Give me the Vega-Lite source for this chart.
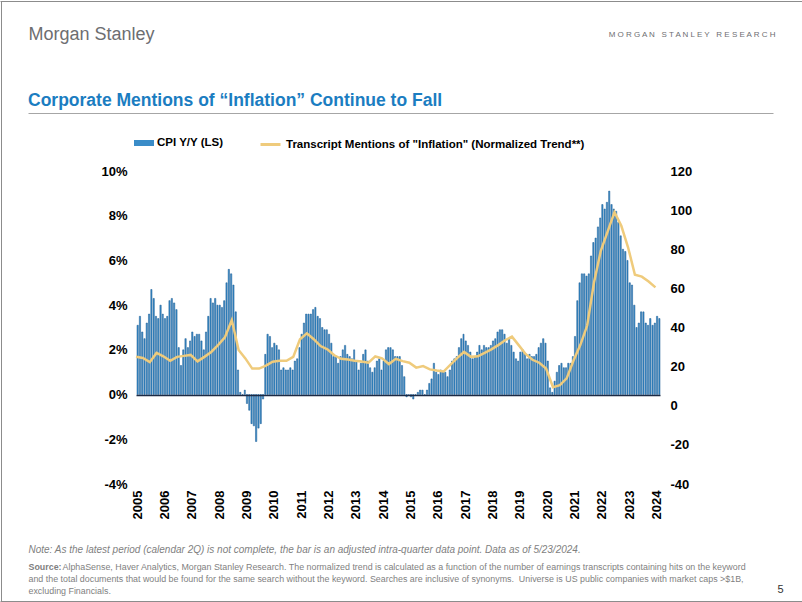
{
"$schema": "https://vega.github.io/schema/vega-lite/v6.json",
"width": 524,
"height": 313,
"autosize": {"type": "none"},
"padding": {"left": 136, "top": 171, "right": 142, "bottom": 118},
"background": "white",
"config": {
  "view": {"stroke": null},
  "axis": {"labelFont": "Liberation Sans", "titleFont": "Liberation Sans"},
  "legend": {"labelFont": "Liberation Sans"},
  "title": {"font": "Liberation Sans"}
},
"title": {
  "text": "Corporate Mentions of “Inflation” Continue to Fall",
  "anchor": "start", "frame": "group", "orient": "top",
  "dx": -108, "dy": 123, "offset": 0, "baseline": "alphabetic",
  "fontSize": 17.5, "fontWeight": "bold", "color": "#1b7dc1"
},
"datasets": {
  "cpi": [
    {"m":"2005-03","cpi":3.1},{"m":"2005-04","cpi":3.5},{"m":"2005-05","cpi":2.8},{"m":"2005-06","cpi":2.5},{"m":"2005-07","cpi":3.2},{"m":"2005-08","cpi":3.6},{"m":"2005-09","cpi":4.7},{"m":"2005-10","cpi":4.3},{"m":"2005-11","cpi":3.5},{"m":"2005-12","cpi":3.4},
    {"m":"2006-01","cpi":4.0},{"m":"2006-02","cpi":3.6},{"m":"2006-03","cpi":3.4},{"m":"2006-04","cpi":3.5},{"m":"2006-05","cpi":4.2},{"m":"2006-06","cpi":4.3},{"m":"2006-07","cpi":4.1},{"m":"2006-08","cpi":3.8},{"m":"2006-09","cpi":2.1},{"m":"2006-10","cpi":1.3},{"m":"2006-11","cpi":2.0},{"m":"2006-12","cpi":2.5},
    {"m":"2007-01","cpi":2.1},{"m":"2007-02","cpi":2.4},{"m":"2007-03","cpi":2.8},{"m":"2007-04","cpi":2.6},{"m":"2007-05","cpi":2.7},{"m":"2007-06","cpi":2.7},{"m":"2007-07","cpi":2.4},{"m":"2007-08","cpi":2.0},{"m":"2007-09","cpi":2.8},{"m":"2007-10","cpi":3.5},{"m":"2007-11","cpi":4.3},{"m":"2007-12","cpi":4.1},
    {"m":"2008-01","cpi":4.3},{"m":"2008-02","cpi":4.0},{"m":"2008-03","cpi":4.0},{"m":"2008-04","cpi":3.9},{"m":"2008-05","cpi":4.2},{"m":"2008-06","cpi":5.0},{"m":"2008-07","cpi":5.6},{"m":"2008-08","cpi":5.4},{"m":"2008-09","cpi":4.9},{"m":"2008-10","cpi":3.7},{"m":"2008-11","cpi":1.1},{"m":"2008-12","cpi":0.1},
    {"m":"2009-01","cpi":0.0},{"m":"2009-02","cpi":0.2},{"m":"2009-03","cpi":-0.4},{"m":"2009-04","cpi":-0.7},{"m":"2009-05","cpi":-1.3},{"m":"2009-06","cpi":-1.4},{"m":"2009-07","cpi":-2.1},{"m":"2009-08","cpi":-1.5},{"m":"2009-09","cpi":-1.3},{"m":"2009-10","cpi":-0.2},{"m":"2009-11","cpi":1.8},{"m":"2009-12","cpi":2.7},
    {"m":"2010-01","cpi":2.6},{"m":"2010-02","cpi":2.1},{"m":"2010-03","cpi":2.3},{"m":"2010-04","cpi":2.2},{"m":"2010-05","cpi":2.0},{"m":"2010-06","cpi":1.1},{"m":"2010-07","cpi":1.2},{"m":"2010-08","cpi":1.1},{"m":"2010-09","cpi":1.1},{"m":"2010-10","cpi":1.2},{"m":"2010-11","cpi":1.1},{"m":"2010-12","cpi":1.5},
    {"m":"2011-01","cpi":1.6},{"m":"2011-02","cpi":2.1},{"m":"2011-03","cpi":2.7},{"m":"2011-04","cpi":3.2},{"m":"2011-05","cpi":3.6},{"m":"2011-06","cpi":3.6},{"m":"2011-07","cpi":3.6},{"m":"2011-08","cpi":3.8},{"m":"2011-09","cpi":3.9},{"m":"2011-10","cpi":3.5},{"m":"2011-11","cpi":3.4},{"m":"2011-12","cpi":3.0},
    {"m":"2012-01","cpi":2.9},{"m":"2012-02","cpi":2.9},{"m":"2012-03","cpi":2.7},{"m":"2012-04","cpi":2.3},{"m":"2012-05","cpi":1.7},{"m":"2012-06","cpi":1.7},{"m":"2012-07","cpi":1.4},{"m":"2012-08","cpi":1.7},{"m":"2012-09","cpi":2.0},{"m":"2012-10","cpi":2.2},{"m":"2012-11","cpi":1.8},{"m":"2012-12","cpi":1.7},
    {"m":"2013-01","cpi":1.6},{"m":"2013-02","cpi":2.0},{"m":"2013-03","cpi":1.5},{"m":"2013-04","cpi":1.1},{"m":"2013-05","cpi":1.4},{"m":"2013-06","cpi":1.8},{"m":"2013-07","cpi":2.0},{"m":"2013-08","cpi":1.5},{"m":"2013-09","cpi":1.2},{"m":"2013-10","cpi":1.0},{"m":"2013-11","cpi":1.2},{"m":"2013-12","cpi":1.5},
    {"m":"2014-01","cpi":1.6},{"m":"2014-02","cpi":1.1},{"m":"2014-03","cpi":1.5},{"m":"2014-04","cpi":2.0},{"m":"2014-05","cpi":2.1},{"m":"2014-06","cpi":2.1},{"m":"2014-07","cpi":2.0},{"m":"2014-08","cpi":1.7},{"m":"2014-09","cpi":1.7},{"m":"2014-10","cpi":1.7},{"m":"2014-11","cpi":1.3},{"m":"2014-12","cpi":0.8},
    {"m":"2015-01","cpi":-0.1},{"m":"2015-02","cpi":0.0},{"m":"2015-03","cpi":-0.1},{"m":"2015-04","cpi":-0.2},{"m":"2015-05","cpi":0.0},{"m":"2015-06","cpi":0.1},{"m":"2015-07","cpi":0.2},{"m":"2015-08","cpi":0.2},{"m":"2015-09","cpi":0.0},{"m":"2015-10","cpi":0.2},{"m":"2015-11","cpi":0.5},{"m":"2015-12","cpi":0.7},
    {"m":"2016-01","cpi":1.4},{"m":"2016-02","cpi":1.0},{"m":"2016-03","cpi":0.9},{"m":"2016-04","cpi":1.1},{"m":"2016-05","cpi":1.0},{"m":"2016-06","cpi":1.0},{"m":"2016-07","cpi":0.8},{"m":"2016-08","cpi":1.1},{"m":"2016-09","cpi":1.5},{"m":"2016-10","cpi":1.6},{"m":"2016-11","cpi":1.7},{"m":"2016-12","cpi":2.1},
    {"m":"2017-01","cpi":2.5},{"m":"2017-02","cpi":2.7},{"m":"2017-03","cpi":2.4},{"m":"2017-04","cpi":2.2},{"m":"2017-05","cpi":1.9},{"m":"2017-06","cpi":1.6},{"m":"2017-07","cpi":1.7},{"m":"2017-08","cpi":1.9},{"m":"2017-09","cpi":2.2},{"m":"2017-10","cpi":2.0},{"m":"2017-11","cpi":2.2},{"m":"2017-12","cpi":2.1},
    {"m":"2018-01","cpi":2.1},{"m":"2018-02","cpi":2.2},{"m":"2018-03","cpi":2.4},{"m":"2018-04","cpi":2.5},{"m":"2018-05","cpi":2.8},{"m":"2018-06","cpi":2.9},{"m":"2018-07","cpi":2.9},{"m":"2018-08","cpi":2.7},{"m":"2018-09","cpi":2.3},{"m":"2018-10","cpi":2.5},{"m":"2018-11","cpi":2.2},{"m":"2018-12","cpi":1.9},
    {"m":"2019-01","cpi":1.6},{"m":"2019-02","cpi":1.5},{"m":"2019-03","cpi":1.9},{"m":"2019-04","cpi":2.0},{"m":"2019-05","cpi":1.8},{"m":"2019-06","cpi":1.6},{"m":"2019-07","cpi":1.8},{"m":"2019-08","cpi":1.7},{"m":"2019-09","cpi":1.7},{"m":"2019-10","cpi":1.8},{"m":"2019-11","cpi":2.1},{"m":"2019-12","cpi":2.3},
    {"m":"2020-01","cpi":2.5},{"m":"2020-02","cpi":2.3},{"m":"2020-03","cpi":1.5},{"m":"2020-04","cpi":0.3},{"m":"2020-05","cpi":0.1},{"m":"2020-06","cpi":0.6},{"m":"2020-07","cpi":1.0},{"m":"2020-08","cpi":1.3},{"m":"2020-09","cpi":1.4},{"m":"2020-10","cpi":1.2},{"m":"2020-11","cpi":1.2},{"m":"2020-12","cpi":1.4},
    {"m":"2021-01","cpi":1.4},{"m":"2021-02","cpi":1.7},{"m":"2021-03","cpi":2.6},{"m":"2021-04","cpi":4.2},{"m":"2021-05","cpi":5.0},{"m":"2021-06","cpi":5.4},{"m":"2021-07","cpi":5.4},{"m":"2021-08","cpi":5.3},{"m":"2021-09","cpi":5.4},{"m":"2021-10","cpi":6.2},{"m":"2021-11","cpi":6.8},{"m":"2021-12","cpi":7.0},
    {"m":"2022-01","cpi":7.5},{"m":"2022-02","cpi":7.9},{"m":"2022-03","cpi":8.5},{"m":"2022-04","cpi":8.3},{"m":"2022-05","cpi":8.6},{"m":"2022-06","cpi":9.1},{"m":"2022-07","cpi":8.5},{"m":"2022-08","cpi":8.3},{"m":"2022-09","cpi":8.2},{"m":"2022-10","cpi":7.7},{"m":"2022-11","cpi":7.1},{"m":"2022-12","cpi":6.5},
    {"m":"2023-01","cpi":6.4},{"m":"2023-02","cpi":6.0},{"m":"2023-03","cpi":5.0},{"m":"2023-04","cpi":4.9},{"m":"2023-05","cpi":4.0},{"m":"2023-06","cpi":3.0},{"m":"2023-07","cpi":3.2},{"m":"2023-08","cpi":3.7},{"m":"2023-09","cpi":3.7},{"m":"2023-10","cpi":3.2},{"m":"2023-11","cpi":3.1},{"m":"2023-12","cpi":3.4},
    {"m":"2024-01","cpi":3.1},{"m":"2024-02","cpi":3.2},{"m":"2024-03","cpi":3.5},{"m":"2024-04","cpi":3.4}
  ],
  "mentions": [
    {"q":"2005-03","v":25},{"q":"2005-06","v":24.4},{"q":"2005-09","v":22.3},{"q":"2005-12","v":27},
    {"q":"2006-03","v":25.3},{"q":"2006-06","v":23},{"q":"2006-09","v":25},{"q":"2006-12","v":25.5},
    {"q":"2007-03","v":26},{"q":"2007-06","v":22.7},{"q":"2007-09","v":25},{"q":"2007-12","v":27.5},
    {"q":"2008-03","v":31},{"q":"2008-06","v":35},{"q":"2008-09","v":43.8},{"q":"2008-12","v":28.5},
    {"q":"2009-03","v":24.2},{"q":"2009-06","v":19},{"q":"2009-09","v":19},{"q":"2009-12","v":20.5},
    {"q":"2010-03","v":22.5},{"q":"2010-06","v":23},{"q":"2010-09","v":23},{"q":"2010-12","v":25},
    {"q":"2011-03","v":34},{"q":"2011-06","v":37},{"q":"2011-09","v":34},{"q":"2011-12","v":30.5},
    {"q":"2012-03","v":28.8},{"q":"2012-06","v":25.8},{"q":"2012-09","v":24},{"q":"2012-12","v":23.6},
    {"q":"2013-03","v":23},{"q":"2013-06","v":22.6},{"q":"2013-09","v":22},{"q":"2013-12","v":25.2},
    {"q":"2014-03","v":24.2},{"q":"2014-06","v":21.3},{"q":"2014-09","v":24},{"q":"2014-12","v":22.8},
    {"q":"2015-03","v":22},{"q":"2015-06","v":19.5},{"q":"2015-09","v":20.3},{"q":"2015-12","v":18.6},
    {"q":"2016-03","v":18},{"q":"2016-06","v":17.5},{"q":"2016-09","v":21},{"q":"2016-12","v":24.5},
    {"q":"2017-03","v":27.5},{"q":"2017-06","v":25},{"q":"2017-09","v":25.3},{"q":"2017-12","v":27},
    {"q":"2018-03","v":28.8},{"q":"2018-06","v":31},{"q":"2018-09","v":33.5},{"q":"2018-12","v":35.3},
    {"q":"2019-03","v":31},{"q":"2019-06","v":26.5},{"q":"2019-09","v":23.5},{"q":"2019-12","v":22},
    {"q":"2020-03","v":19},{"q":"2020-06","v":9.5},{"q":"2020-09","v":10.5},{"q":"2020-12","v":14},
    {"q":"2021-03","v":23},{"q":"2021-06","v":31},{"q":"2021-09","v":41},{"q":"2021-12","v":63},
    {"q":"2022-03","v":79},{"q":"2022-06","v":89},{"q":"2022-09","v":99},{"q":"2022-12","v":92},
    {"q":"2023-03","v":81},{"q":"2023-06","v":67},{"q":"2023-09","v":66},{"q":"2023-12","v":63.5},
    {"q":"2024-03","v":60.5}
  ]
},
"layer": [
  {
    "data": {"name": "cpi"},
    "mark": {"type": "bar", "stroke": "#1b5a93", "strokeWidth": 0.5},
    "encoding": {
      "x": {
        "field": "m", "type": "temporal", "timeUnit": "utcyearmonth",
        "scale": {"type": "utc", "domain": [{"year": 2005, "month": 3, "date": 1, "utc": true}, {"year": 2024, "month": 5, "date": 1, "utc": true}]},
        "axis": {
          "orient": "bottom",
          "values": [
            {"year": 2005, "month": 3, "date": 16, "utc": true},{"year": 2006, "month": 3, "date": 16, "utc": true},{"year": 2007, "month": 3, "date": 16, "utc": true},{"year": 2008, "month": 3, "date": 16, "utc": true},
            {"year": 2009, "month": 3, "date": 16, "utc": true},{"year": 2010, "month": 3, "date": 16, "utc": true},{"year": 2011, "month": 3, "date": 16, "utc": true},{"year": 2012, "month": 3, "date": 16, "utc": true},
            {"year": 2013, "month": 3, "date": 16, "utc": true},{"year": 2014, "month": 3, "date": 16, "utc": true},{"year": 2015, "month": 3, "date": 16, "utc": true},{"year": 2016, "month": 3, "date": 16, "utc": true},
            {"year": 2017, "month": 3, "date": 16, "utc": true},{"year": 2018, "month": 3, "date": 16, "utc": true},{"year": 2019, "month": 3, "date": 16, "utc": true},{"year": 2020, "month": 3, "date": 16, "utc": true},
            {"year": 2021, "month": 3, "date": 16, "utc": true},{"year": 2022, "month": 3, "date": 16, "utc": true},{"year": 2023, "month": 3, "date": 16, "utc": true},{"year": 2024, "month": 3, "date": 16, "utc": true}
          ],
          "labelExpr": "utcFormat(datum.value, '%Y')",
          "labelAngle": -90, "labelFontSize": 13, "labelFontWeight": "bold", "labelColor": "#000000", "labelPadding": 6,
          "labelOverlap": false, "labelFlush": false,
          "domain": false, "ticks": false, "grid": false,
          "title": "Note: As the latest period (calendar 2Q) is not complete, the bar is an adjusted intra-quarter data point. Data as of 5/23/2024.",
          "titleX": -108, "titleY": 68, "titleAngle": 0, "titleAlign": "left", "titleBaseline": "alphabetic",
          "titleFontSize": 10, "titleFontWeight": "normal", "titleFontStyle": "italic", "titleColor": "#7f7f7f"
        }
      },
      "y": {
        "field": "cpi", "type": "quantitative",
        "scale": {"domain": [-4, 10], "nice": false, "zero": false},
        "axis": {
          "orient": "left", "zindex": 1,
          "values": [-4, -2, 0, 2, 4, 6, 8, 10],
          "labelExpr": "datum.value + '%'",
          "labelFontSize": 13, "labelFontWeight": "bold", "labelColor": "#000000", "labelPadding": 9,
          "domain": false, "ticks": false,
          "grid": true, "gridWidth": 1.6,
          "gridColor": {"condition": {"test": "datum.value === 0", "value": "#1c2a44"}, "value": "transparent"},
          "title": "Morgan Stanley",
          "titleX": -108, "titleY": -132, "titleAngle": 0, "titleAlign": "left", "titleBaseline": "alphabetic",
          "titleFontSize": 18, "titleFontWeight": "normal", "titleColor": "#6d6e71"
        }
      },
      "fill": {
        "datum": "CPI Y/Y (LS)", "type": "nominal",
        "scale": {"range": ["#3a8cc8"]},
        "legend": {
          "orient": "none", "legendX": -2, "legendY": -38, "title": null, "padding": 0,
          "symbolType": "M-1,-0.3H1V0.3H-1Z", "symbolSize": 400, "symbolStrokeWidth": 0,
          "labelFontSize": 11.5, "labelFontWeight": "bold", "labelColor": "#000000", "labelOffset": 3, "labelLimit": 400
        }
      }
    }
  },
  {
    "data": {"name": "mentions"},
    "mark": {"type": "line", "strokeWidth": 2.5},
    "encoding": {
      "x": {
        "field": "q", "type": "temporal",
        "scale": {"type": "utc", "domain": [{"year": 2005, "month": 3, "date": 1, "utc": true}, {"year": 2024, "month": 5, "date": 1, "utc": true}]},
        "axis": {
          "orient": "bottom", "labels": false, "ticks": false, "domain": false, "grid": false,
          "title": "AlphaSense, Haver Analytics, Morgan Stanley Research. The normalized trend is calculated as a function of the number of earnings transcripts containing hits on the keyword",
          "titleX": -74, "titleY": 78, "titleAngle": 0, "titleAlign": "left", "titleBaseline": "top",
          "titleFontSize": 8.9, "titleFontWeight": "normal", "titleColor": "#7f7f7f", "titleLimit": 800
        }
      },
      "y": {
        "field": "v", "type": "quantitative",
        "scale": {"domain": [-40, 120], "nice": false, "zero": false},
        "axis": {
          "orient": "right",
          "values": [-40, -20, 0, 20, 40, 60, 80, 100, 120],
          "labelExpr": "'' + datum.value",
          "labelFontSize": 13, "labelFontWeight": "bold", "labelColor": "#000000", "labelPadding": 10,
          "domain": false, "ticks": false, "grid": false,
          "title": "M O R G A N\u00a0\u00a0 S T A N L E Y\u00a0\u00a0 R E S E A R C H",
          "titleX": 115, "titleY": -135, "titleAngle": 0, "titleAlign": "right", "titleBaseline": "alphabetic",
          "titleFontSize": 8, "titleFontWeight": "normal", "titleColor": "#6d6e71"
        }
      },
      "stroke": {
        "datum": "Transcript Mentions of \"Inflation\" (Normalized Trend**)", "type": "nominal",
        "scale": {"range": ["#efcb7c"]},
        "legend": {
          "orient": "none", "legendX": 123, "legendY": -38, "title": null, "padding": 0,
          "symbolType": "stroke", "symbolSize": 400, "symbolStrokeWidth": 3,
          "labelFontSize": 11.5, "labelFontWeight": "bold", "labelColor": "#000000", "labelOffset": 4, "labelLimit": 400
        }
      }
    }
  },
  {
    "data": {"name": "mentions"},
    "mark": {"type": "point", "opacity": 0},
    "encoding": {
      "x": {
        "field": "q", "type": "temporal",
        "scale": {"type": "utc", "domain": [{"year": 2005, "month": 3, "date": 1, "utc": true}, {"year": 2024, "month": 5, "date": 1, "utc": true}], "range": [-135.5, 665.5]},
        "axis": {
          "orient": "bottom", "offset": 117.5,
          "values": [{"year": 2005, "month": 3, "date": 1, "utc": true}, {"year": 2024, "month": 5, "date": 1, "utc": true}],
          "labels": false, "domain": false, "grid": false,
          "ticks": true, "tickSize": -601, "tickColor": "#8c8c8c", "tickWidth": 1,
          "title": "Source:",
          "titleX": -108, "titleY": -39.5, "titleAngle": 0, "titleAlign": "left", "titleBaseline": "top",
          "titleFontSize": 8.9, "titleFontWeight": "bold", "titleColor": "#7f7f7f"
        }
      },
      "y": {
        "field": "v", "type": "quantitative",
        "scale": {"domain": [0, 373], "range": [313, -60], "nice": false, "zero": false},
        "axis": {
          "orient": "left", "offset": 108,
          "values": [371], "labels": false, "domain": false, "grid": false,
          "ticks": true, "tickSize": -745, "tickColor": "#a6a6a6", "tickWidth": 1,
          "title": "5",
          "titleX": 749, "titleY": 421, "titleAngle": 0, "titleAlign": "left", "titleBaseline": "alphabetic",
          "titleFontSize": 11, "titleFontWeight": "normal", "titleColor": "#333333"
        }
      }
    }
  },
  {
    "data": {"name": "mentions"},
    "mark": {"type": "point", "opacity": 0},
    "encoding": {
      "x": {
        "field": "q", "type": "temporal",
        "scale": {"type": "utc", "domain": [{"year": 2005, "month": 3, "date": 1, "utc": true}, {"year": 2024, "month": 5, "date": 1, "utc": true}]},
        "axis": {
          "orient": "bottom", "labels": false, "ticks": false, "domain": false, "grid": false,
          "title": [
            "and the total documents that would be found for the same search without the keyword. Searches are inclusive of synonyms.\u00a0 Universe is US public companies with market caps >$1B,",
            "excluding Financials."
          ],
          "titleX": -108, "titleY": 90, "titleAngle": 0, "titleAlign": "left", "titleBaseline": "top", "titleLineHeight": 12,
          "titleFontSize": 8.9, "titleFontWeight": "normal", "titleColor": "#7f7f7f", "titleLimit": 800
        }
      },
      "y": {
        "field": "v", "type": "quantitative",
        "scale": {"domain": [0, 602], "range": [431, -171], "nice": false, "zero": false},
        "axis": {
          "orient": "left", "offset": 136,
          "values": [0.5, 601.5], "labels": false, "domain": false, "grid": false,
          "ticks": true, "tickSize": -802, "tickColor": "#8c8c8c", "tickWidth": 1,
          "title": null
        }
      }
    }
  }
],
"resolve": {"scale": {"x": "independent", "y": "independent"}, "axis": {"x": "independent", "y": "independent"}}
}
